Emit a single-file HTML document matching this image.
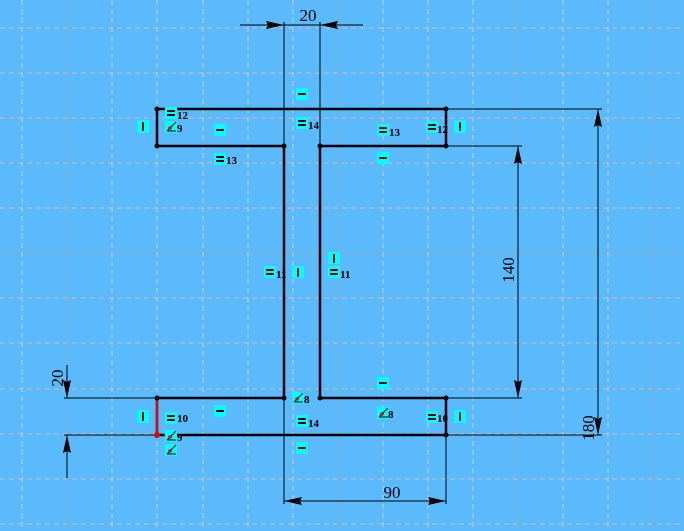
<!DOCTYPE html>
<html><head><style>
html,body{margin:0;padding:0;background:#5abafc;}
svg{display:block}
.t{font-family:"Liberation Serif",serif;font-weight:bold;font-size:11px;fill:#000}
.d{font-family:"Liberation Serif",serif;font-size:17px;fill:#000}
</style></head><body>
<svg width="684" height="531" xmlns="http://www.w3.org/2000/svg">
<rect width="684" height="531" fill="#5abafc"/>
<g stroke-dasharray="5,4" stroke-width="1">
<g stroke="#d8b8b8">
<line x1="0" y1="28" x2="684" y2="28"/><line x1="0" y1="73" x2="684" y2="73"/><line x1="0" y1="118" x2="684" y2="118"/><line x1="0" y1="163" x2="684" y2="163"/><line x1="0" y1="208" x2="684" y2="208"/><line x1="0" y1="298" x2="684" y2="298"/><line x1="0" y1="343" x2="684" y2="343"/><line x1="0" y1="389" x2="684" y2="389"/><line x1="0" y1="434" x2="684" y2="434"/><line x1="0" y1="479" x2="684" y2="479"/><line x1="0" y1="524" x2="684" y2="524"/>
</g>
<line x1="0" y1="253" x2="684" y2="253" stroke="#b09a9a"/>
<g stroke="#c8cdd8">
<line x1="22" y1="0" x2="22" y2="531"/><line x1="112" y1="0" x2="112" y2="531"/><line x1="157" y1="0" x2="157" y2="531"/><line x1="203" y1="0" x2="203" y2="531"/><line x1="248" y1="0" x2="248" y2="531"/><line x1="293" y1="0" x2="293" y2="531"/><line x1="383" y1="0" x2="383" y2="531"/><line x1="428" y1="0" x2="428" y2="531"/><line x1="473" y1="0" x2="473" y2="531"/><line x1="563" y1="0" x2="563" y2="531"/><line x1="608" y1="0" x2="608" y2="531"/>
</g>
<g stroke="#a0a0a8">
<line x1="67" y1="0" x2="67" y2="531"/><line x1="338" y1="0" x2="338" y2="531"/><line x1="518" y1="0" x2="518" y2="531"/><line x1="653" y1="0" x2="653" y2="531"/>
</g>
</g>
<!-- dimension lines -->
<g stroke="#000" stroke-width="1" fill="none">
<line x1="240" y1="25" x2="363" y2="25"/>
<line x1="284" y1="22" x2="284" y2="146"/><line x1="320" y1="22" x2="320" y2="146"/>
<line x1="446" y1="109" x2="602" y2="109"/><line x1="446" y1="146" x2="522" y2="146"/>
<line x1="446" y1="398" x2="522" y2="398"/><line x1="446" y1="435" x2="602" y2="435"/>
<line x1="518" y1="146" x2="518" y2="398"/><line x1="598" y1="109" x2="598" y2="435"/>
<line x1="64" y1="398" x2="157" y2="398"/><line x1="64" y1="435" x2="157" y2="435"/>
<line x1="67" y1="365" x2="67" y2="398"/><line x1="67" y1="435" x2="67" y2="478"/>
<line x1="284" y1="398" x2="284" y2="504"/><line x1="446" y1="435" x2="446" y2="504"/>
<line x1="284" y1="501" x2="446" y2="501"/>
</g>
<g fill="#000">
<polygon points="284,25 266,21 268,25 266,29"/><polygon points="320,25 338,21 336,25 338,29"/>
<polygon points="518,146 514,164 518,162 522,164"/><polygon points="518,398 514,380 518,382 522,380"/>
<polygon points="598,109 594,127 598,125 602,127"/><polygon points="598,435 594,417 598,419 602,417"/>
<polygon points="67,398 63,380 67,382 71,380"/><polygon points="67,435 63,453 67,451 71,453"/>
<polygon points="284,501 302,497 300,501 302,505"/><polygon points="446,501 428,497 430,501 428,505"/>
</g>
<text class="d" x="308" y="21" text-anchor="middle">20</text>
<text class="d" x="392" y="498" text-anchor="middle">90</text>
<text class="d" transform="translate(514,270) rotate(-90)" text-anchor="middle">140</text>
<text class="d" transform="translate(594,428) rotate(-90)" text-anchor="middle">180</text>
<text class="d" transform="translate(63,378) rotate(-90)" text-anchor="middle">20</text>
<!-- profile -->
<polygon points="157,109 446,109 446,146 320,146 320,398 446,398 446,435 157,435 157,398 284,398 284,146 157,146" fill="none" stroke="#000" stroke-width="2.5"/>
<line x1="157" y1="398" x2="157" y2="435" stroke="#e00" stroke-width="2"/>
<g fill="#000">
<circle cx="157" cy="109" r="2.5"/><circle cx="446" cy="109" r="2.5"/><circle cx="157" cy="146" r="2.5"/><circle cx="446" cy="146" r="2.5"/>
<circle cx="284" cy="146" r="2.5"/><circle cx="320" cy="146" r="2.5"/><circle cx="284" cy="398" r="2.5"/><circle cx="320" cy="398" r="2.5"/>
<circle cx="157" cy="398" r="2.5"/><circle cx="446" cy="398" r="2.5"/><circle cx="446" cy="435" r="2.5"/>
</g>
<circle cx="157" cy="435" r="3" fill="#e00"/>
<!-- relation icons -->
<g fill="#00ffff">
<rect x="165" y="107" width="12" height="12"/><rect x="165" y="121" width="12" height="12"/><rect x="137" y="120" width="12" height="13"/>
<rect x="214" y="124" width="12" height="12"/><rect x="214" y="153" width="12" height="12"/>
<rect x="296" y="88" width="12" height="12"/><rect x="296" y="117" width="12" height="12"/>
<rect x="377" y="124" width="12" height="12"/><rect x="377" y="152" width="12" height="12"/>
<rect x="426" y="121" width="12" height="12"/><rect x="454" y="120" width="12" height="13"/>
<rect x="264" y="266" width="12" height="12"/><rect x="292" y="266" width="12" height="12"/>
<rect x="328" y="252" width="12" height="12"/><rect x="328" y="266" width="12" height="12"/>
<rect x="377" y="377" width="12" height="12"/><rect x="377" y="407" width="12" height="12"/>
<rect x="137" y="410" width="12" height="13"/><rect x="165" y="412" width="12" height="12"/><rect x="214" y="405" width="12" height="12"/>
<rect x="292" y="392" width="12" height="12"/><rect x="296" y="415" width="12" height="12"/><rect x="296" y="442" width="12" height="12"/>
<rect x="165" y="430" width="12" height="12"/><rect x="165" y="444" width="12" height="12"/>
<rect x="426" y="411" width="12" height="12"/><rect x="454" y="410" width="12" height="13"/>
</g>
<g fill="#000">
<!-- equals -->
<rect x="167" y="110" width="8" height="2"/><rect x="167" y="114" width="8" height="2"/>
<rect x="298" y="120" width="8" height="2"/><rect x="298" y="124" width="8" height="2"/>
<rect x="379" y="127" width="8" height="2"/><rect x="379" y="131" width="8" height="2"/>
<rect x="428" y="124" width="8" height="2"/><rect x="428" y="128" width="8" height="2"/>
<rect x="216" y="156" width="8" height="2"/><rect x="216" y="160" width="8" height="2"/>
<rect x="266" y="269" width="8" height="2"/><rect x="266" y="273" width="8" height="2"/>
<rect x="330" y="269" width="8" height="2"/><rect x="330" y="273" width="8" height="2"/>
<rect x="167" y="415" width="8" height="2"/><rect x="167" y="419" width="8" height="2"/>
<rect x="298" y="418" width="8" height="2"/><rect x="298" y="422" width="8" height="2"/>
<rect x="428" y="414" width="8" height="2"/><rect x="428" y="418" width="8" height="2"/>
<!-- horizontal -->
<rect x="216" y="129" width="8" height="2"/><rect x="298" y="93" width="8" height="2"/><rect x="379" y="157" width="8" height="2"/>
<rect x="379" y="382" width="8" height="2"/><rect x="216" y="410" width="8" height="2"/><rect x="298" y="447" width="8" height="2"/>
<!-- vertical -->
<rect x="142" y="122" width="2" height="9"/><rect x="459" y="122" width="2" height="9"/>
<rect x="297" y="268" width="2" height="9"/><rect x="333" y="254" width="2" height="9"/>
<rect x="142" y="412" width="2" height="9"/><rect x="459" y="412" width="2" height="9"/>
</g>
<g stroke="#000" stroke-width="1">
<line x1="167" y1="131" x2="176" y2="122"/><line x1="167" y1="131" x2="176" y2="131"/>
<line x1="294" y1="402" x2="303" y2="393"/><line x1="294" y1="402" x2="303" y2="402"/>
<line x1="379" y1="417" x2="388" y2="408"/><line x1="379" y1="417" x2="388" y2="417"/>
<line x1="167" y1="440" x2="176" y2="431"/><line x1="167" y1="440" x2="176" y2="440"/>
<line x1="167" y1="454" x2="176" y2="445"/><line x1="167" y1="454" x2="176" y2="454"/>
</g>
<g fill="#e00"><circle cx="170" cy="128" r="1.8"/><circle cx="297" cy="399" r="1.8"/><circle cx="382" cy="414" r="1.8"/><circle cx="170" cy="437" r="1.8"/><circle cx="170" cy="451" r="1.8"/></g>
<text class="t" x="177" y="119">12</text><text class="t" x="177" y="132">9</text>
<text class="t" x="308" y="129">14</text><text class="t" x="389" y="136">13</text><text class="t" x="437" y="133">12</text>
<text class="t" x="226" y="164">13</text>
<text class="t" x="276" y="278">11</text><text class="t" x="340" y="278">11</text>
<text class="t" x="177" y="422">10</text><text class="t" x="308" y="427">14</text><text class="t" x="437" y="422">10</text>
<text class="t" x="304" y="403">8</text><text class="t" x="388" y="418">8</text><text class="t" x="177" y="441">9</text>
</svg>
</body></html>
